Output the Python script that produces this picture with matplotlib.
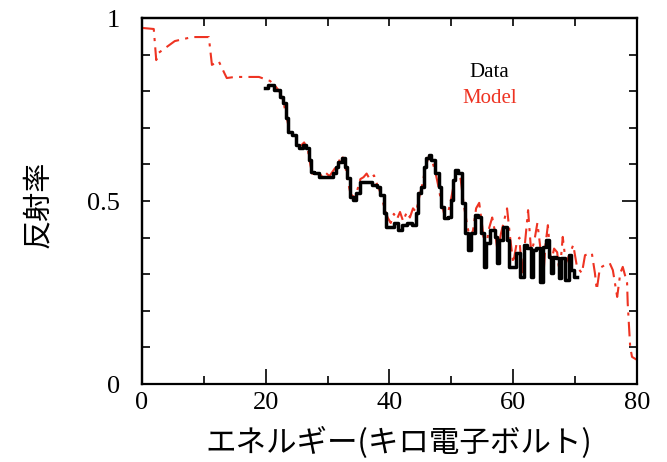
import matplotlib
matplotlib.use("Agg")
import matplotlib.pyplot as plt
from matplotlib.ticker import MultipleLocator, NullFormatter

# Measured data (black stair line)
data_x = [19.9, 20.7, 22.0, 22.6, 23.1, 23.4, 23.9, 24.7, 25.0, 25.8, 26.3, 26.8, 27.1, 27.4,
          28.2, 29.0, 30.4, 31.2, 31.5, 32.0, 32.5, 33.1, 33.3, 33.9, 34.4, 34.9, 35.5, 36.5,
          37.7, 38.1, 38.8, 39.3, 39.6, 40.4, 40.9, 41.7, 42.5, 43.3, 44.1, 44.4, 44.9, 45.4,
          45.7, 46.2, 46.5, 47.0, 47.7, 48.2, 48.5, 49.0, 49.8, 50.1, 50.4, 50.9, 51.4, 51.9,
          52.5, 53.0, 53.5, 54.1, 54.6, 55.0, 55.4, 55.9, 56.6, 57.4, 57.5, 57.9, 58.7, 59.2,
          59.5, 60.3, 60.6, 61.1, 61.1, 61.6, 61.9, 62.7, 63.0, 63.5, 64.0, 64.6, 65.1, 65.6,
          65.9, 66.3, 66.7, 67.2, 67.6, 67.9, 68.7, 69.2, 69.5, 70.3]
data_y = [0.808, 0.817, 0.803, 0.784, 0.768, 0.727, 0.689, 0.680, 0.653, 0.645, 0.653, 0.645, 0.612, 0.579,
          0.576, 0.566, 0.566, 0.576, 0.593, 0.607, 0.617, 0.593, 0.563, 0.511, 0.503, 0.522, 0.552, 0.552,
          0.544, 0.538, 0.516, 0.467, 0.429, 0.429, 0.440, 0.421, 0.434, 0.440, 0.434, 0.467, 0.522, 0.538,
          0.593, 0.617, 0.626, 0.612, 0.576, 0.538, 0.484, 0.454, 0.456, 0.503, 0.557, 0.585, 0.576, 0.495,
          0.413, 0.366, 0.413, 0.462, 0.456, 0.413, 0.320, 0.385, 0.421, 0.402, 0.330, 0.393, 0.429, 0.393,
          0.320, 0.320, 0.358, 0.358, 0.292, 0.292, 0.380, 0.372, 0.292, 0.366, 0.372, 0.279, 0.374, 0.393,
          0.347, 0.303, 0.347, 0.344, 0.290, 0.344, 0.284, 0.352, 0.311, 0.292]

# Model (red dash-dot line)
model_x = [0.0, 1.9, 2.3, 2.7, 5.3, 8.1, 10.8, 11.3, 12.4, 13.3, 13.7, 15.0, 18.9,
           20.7, 21.5, 22.2, 22.8, 23.3, 23.8, 24.5, 25.0, 25.6, 26.2, 26.8, 27.2, 27.5, 28.3,
           29.0, 29.5, 30.3, 31.0, 31.6, 32.3, 32.8, 33.2, 33.7, 34.2, 34.8, 35.3, 35.8, 36.3,
           36.8, 37.5, 38.0, 38.6, 39.2, 39.7, 40.2, 40.7, 41.2, 41.7, 42.2, 42.8, 43.3, 43.8,
           44.3, 44.8, 45.3, 45.8, 46.3, 46.8, 47.4, 47.9, 48.4, 48.9, 49.5, 50.0, 50.5, 51.0,
           51.5, 52.0, 52.5, 53.0, 53.5, 54.0, 54.5, 55.0, 55.5, 56.0, 56.6, 57.0, 57.5, 58.0,
           58.5, 59.0, 59.5, 60.0, 60.5, 61.0, 61.4, 61.9, 62.4, 62.9, 63.4, 63.9, 64.4, 64.8,
           65.2, 65.6, 66.1, 66.6, 67.1, 67.5, 68.0, 68.5, 69.0, 69.7, 70.3, 71.1, 71.6, 72.7,
           73.2, 73.5, 74.0, 74.8, 75.6, 76.1, 76.8, 77.3, 77.7, 78.4, 78.5, 78.9, 79.2, 80.0]
model_y = [0.973, 0.970, 0.885, 0.905, 0.937, 0.948, 0.948, 0.872, 0.882, 0.850, 0.836, 0.839, 0.839,
           0.828, 0.815, 0.800, 0.775, 0.735, 0.695, 0.680, 0.655, 0.650, 0.660, 0.640, 0.600, 0.575, 0.575,
           0.570, 0.580, 0.568, 0.585, 0.600, 0.625, 0.600, 0.560, 0.520, 0.510, 0.530, 0.560, 0.565, 0.575,
           0.560, 0.570, 0.545, 0.520, 0.480, 0.455, 0.440, 0.465, 0.450, 0.470, 0.445, 0.470, 0.455, 0.480,
           0.470, 0.510, 0.545, 0.590, 0.620, 0.615, 0.580, 0.540, 0.495, 0.460, 0.470, 0.510, 0.555, 0.570,
           0.560, 0.490, 0.440, 0.395, 0.420, 0.480, 0.495, 0.430, 0.350, 0.420, 0.455, 0.420, 0.360, 0.410,
           0.445, 0.480, 0.400, 0.330, 0.380, 0.400, 0.300, 0.385, 0.475, 0.360, 0.390, 0.440, 0.370, 0.276,
           0.380, 0.434, 0.330, 0.370, 0.360, 0.300, 0.402, 0.330, 0.350, 0.380, 0.320, 0.303, 0.352, 0.358,
           0.303, 0.257, 0.317, 0.325, 0.330, 0.311, 0.238, 0.303, 0.320, 0.276, 0.221, 0.101, 0.074, 0.066]

x_ticks = [0, 20, 40, 60, 80]
y_ticks = [0, 0.5, 1]
y_tick_labels = ["0", "0.5", "1"]
legend_labels = ["Data", "Model"]
xlabel = "エネルギー(キロ電子ボルト)"
ylabel = "反射率"

RED = "#ee3322"
serif = "Liberation Serif"
cjk = ["Noto Sans CJK JP", "DejaVu Sans"]

fig = plt.figure(figsize=(6.67, 4.62), dpi=100)
ax = fig.add_axes([0.2129, 0.1688, 0.7421, 0.7922])

ax.plot(model_x, model_y, color=RED, lw=1.5, dashes=(7, 3, 1.5, 3), zorder=2)
ax.plot(data_x, data_y, color="black", lw=2.5, drawstyle="steps-mid", zorder=3)

ax.set_xlim(0, 80)
ax.set_ylim(0, 1)
ax.set_xticks(x_ticks)
ax.xaxis.set_minor_locator(MultipleLocator(10))
ax.set_yticks(y_ticks)
ax.set_yticklabels(y_tick_labels)
ax.yaxis.set_minor_locator(MultipleLocator(0.1))

for lab in ax.get_xticklabels() + ax.get_yticklabels():
    lab.set_fontfamily(serif)
    lab.set_fontsize(19)

# bottom and right ticks (longer majors); labels on bottom / left
ax.tick_params(which="both", direction="in", width=1.2, top=False, left=False,
               bottom=True, right=True, labelleft=True, labelright=False)
ax.tick_params(which="major", length=11)
ax.tick_params(which="minor", length=6)
ax.tick_params(axis="x", pad=6)
ax.tick_params(axis="y", pad=16)

# top and left ticks (all short)
top = ax.secondary_xaxis("top")
top.set_xticks(x_ticks)
top.xaxis.set_minor_locator(MultipleLocator(10))
top.xaxis.set_major_formatter(NullFormatter())
top.tick_params(which="both", direction="in", length=6, width=1.2)
left = ax.secondary_yaxis("left")
left.set_yticks(y_ticks)
left.yaxis.set_minor_locator(MultipleLocator(0.1))
left.yaxis.set_major_formatter(NullFormatter())
left.tick_params(which="both", direction="in", length=6, width=1.2)
for sec in (top, left):
    for s in sec.spines.values():
        s.set_linewidth(1.6)

for s in ax.spines.values():
    s.set_linewidth(1.6)

ax.set_xlabel(xlabel, fontfamily=cjk, fontsize=22)
ax.xaxis.set_label_coords(0.519, -0.118)
ax.set_ylabel(ylabel, fontfamily=cjk, fontsize=21)
ax.yaxis.set_label_coords(-0.180, 0.49)

ax.text(56.2, 0.850, legend_labels[0], color="black", fontfamily=serif, fontsize=15,
        ha="center", va="center")
ax.text(56.2, 0.781, legend_labels[1], color=RED, fontfamily=serif, fontsize=15,
        ha="center", va="center")

fig.savefig("out.png", dpi=100)
